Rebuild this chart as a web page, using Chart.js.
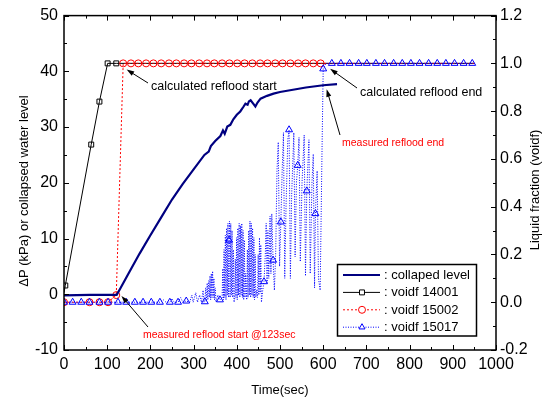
<!DOCTYPE html>
<html>
<head>
<meta charset="utf-8">
<script src="https://cdn.jsdelivr.net/npm/chart.js@4.4.1/dist/chart.umd.min.js"></script>
<style>
  html, body { margin: 0; padding: 0; background: #fff; }
  canvas { display: block; }
</style>
</head>
<body>
<canvas id="chart" width="549" height="401"></canvas>
<script>
// collapsed water level (kPa, left axis)
const tCollapsed = [0, 60, 122, 130, 150, 175, 200, 225, 250, 275, 300, 325, 335, 340, 350, 362, 368, 372, 378, 385, 392, 400, 408, 415, 420, 425, 428, 432, 438, 443, 448, 455, 470, 485, 500, 530, 560, 600, 632];
const vCollapsed = [-0.2, -0.1, -0.1, 1.0, 3.8, 7.3, 10.6, 13.8, 17.0, 19.8, 22.4, 25.0, 25.6, 26.6, 27.5, 28.4, 29.4, 28.8, 30.1, 30.4, 31.4, 32.2, 32.8, 33.6, 34.2, 34.0, 34.6, 34.8, 34.2, 33.7, 34.4, 35.1, 35.6, 36.0, 36.3, 36.7, 37.1, 37.5, 37.7];

// voidf 14001 (right axis)
const t14001 = [0, 3, 63, 82, 101, 121, 950];
const v14001 = [0.04, 0.07, 0.66, 0.84, 1.0, 1.0, 1.0];
const mk14001 = [3, 63, 82, 101, 121];

// voidf 15002
const t15002 = [0, 59, 82, 102, 121, 137, 155, 172, 190, 207, 225, 243, 260, 278, 295, 313, 331, 348, 366, 383, 401, 418, 436, 454, 471, 489, 506, 524, 542, 559, 577, 594, 950];
const v15002 = [0.0, 0.0, 0.0, 0.0, 0.03, 1.0, 1.0, 1.0, 1.0, 1.0, 1.0, 1.0, 1.0, 1.0, 1.0, 1.0, 1.0, 1.0, 1.0, 1.0, 1.0, 1.0, 1.0, 1.0, 1.0, 1.0, 1.0, 1.0, 1.0, 1.0, 1.0, 1.0, 1.0];
const mk15002 = [0, 59, 82, 102, 121, 137, 155, 172, 190, 207, 225, 243, 260, 278, 295, 313, 331, 348, 366, 383, 401, 418, 436, 454, 471, 489, 506, 524, 542, 559, 577, 594];

// voidf 15017
const t15017 = [0, 20, 40, 59, 82, 102, 125, 144, 164, 183, 202, 222, 230, 236, 245, 250, 255, 264, 270, 275, 283,
  291, 296, 299, 305, 309, 314, 318, 322, 324, 326, 328, 330, 331.5, 333, 335, 336.5, 338, 339.5, 341, 342.5, 344, 345.5, 347, 348.5, 350, 352, 356, 361,
  366, 367.5, 369, 370.5, 372, 373.5, 375, 376.5, 378, 379.5, 381, 382, 383, 384.5, 386, 387.5, 389, 390.5, 392, 393.5,
  395, 396.5, 398, 399.5, 401, 402.5, 404, 405.5, 407, 408.5, 410, 411.5, 413, 414.5, 416, 417.5, 419, 420.5,
  423, 424.5, 426, 427.5, 429, 430.5, 432, 433.5, 435, 436.5, 438, 439.5, 441, 442.5, 444, 445.5,
  448, 449.5, 451, 452.5, 454, 455.5, 457, 460, 463, 466, 468, 470, 472, 474, 477, 479, 481, 484, 487,
  490, 493, 496, 499, 502, 505, 508, 511, 514, 518, 521, 524, 527, 532, 535, 538, 541, 544, 547,
  551, 556, 559, 562, 567, 570, 574, 577, 580, 582, 586, 589, 593, 597, 600, 606,
  620, 641, 661, 682, 701, 722, 742, 763, 783, 803, 823, 844, 864, 884, 904, 925, 945, 950];
const v15017 = [0.0, 0.0, 0.0, 0.0, 0.0, 0.0, 0.0, 0.0, 0.0, 0.0, 0.0, 0.0, 0.01, 0.0, 0.0, 0.015, 0.0, 0.0, 0.02, 0.0, 0.005,
  0.0, 0.03, 0.0, 0.04, 0.0, 0.03, 0.0, 0.05, 0.0, 0.002, 0.06, 0.01, 0.08, 0.01, 0.09, 0.02, 0.11, 0.01, 0.12, 0.02, 0.13, 0.02, 0.10, 0.01, 0.06, 0.0, 0.03, 0.01,
  0.02, 0.14, 0.01, 0.22, 0.02, 0.28, 0.01, 0.31, 0.03, 0.33, 0.02, 0.26, 0.34, 0.02, 0.33, 0.03, 0.30, 0.02, 0.22, 0.0,
  0.01, 0.18, 0.02, 0.27, 0.01, 0.31, 0.03, 0.33, 0.02, 0.32, 0.03, 0.33, 0.02, 0.30, 0.01, 0.26, 0.02, 0.12,
  0.01, 0.22, 0.02, 0.30, 0.03, 0.34, 0.02, 0.33, 0.03, 0.31, 0.02, 0.27, 0.01, 0.20, 0.02, 0.05,
  0.02, 0.20, 0.03, 0.27, 0.04, 0.24, 0.0, 0.05, 0.086, 0.20, 0.33, 0.08, 0.30, 0.10, 0.36, 0.12, 0.37, 0.176, 0.05,
  0.20, 0.55, 0.67, 0.15, 0.336, 0.55, 0.71, 0.10, 0.40, 0.68, 0.722, 0.10, 0.45, 0.71, 0.19, 0.50, 0.573, 0.69, 0.17,
  0.50, 0.70, 0.11, 0.466, 0.68, 0.12, 0.50, 0.62, 0.06, 0.371, 0.55, 0.10, 0.05, 0.60, 0.977, 1.0,
  1.0, 1.0, 1.0, 1.0, 1.0, 1.0, 1.0, 1.0, 1.0, 1.0, 1.0, 1.0, 1.0, 1.0, 1.0, 1.0, 1.0, 1.0];
const mk15017 = [0, 20, 40, 59, 82, 102, 125, 144, 164, 183, 202, 222, 245, 264, 283, 326, 361, 382, 463, 484, 502, 521, 541, 562, 582, 600,
  620, 641, 661, 682, 701, 722, 742, 763, 783, 803, 823, 844, 864, 884, 904, 925, 945];

const xTicks = [0, 1000, 100];
const yLeftTicks = [-10, 50, 10];
const yRightTicks = [-0.2, 1.2, 0.2];

const legendLabels = [": collaped level", ": voidf 14001", ": voidf 15002", ": voidf 15017"];
const FONT = "'Liberation Sans', Arial, sans-serif";

function pts(t, v) {
  return t.map((x, i) => ({ x, y: v[i] }));
}

function markerRadius(list, r) {
  return (ctx) => (ctx.raw && list.includes(ctx.raw.x) ? r : 0);
}

function arrow(ctx, x1, y1, x2, y2) {
  const a = Math.atan2(y2 - y1, x2 - x1);
  ctx.beginPath();
  ctx.moveTo(x1, y1);
  ctx.lineTo(x2 - 5 * Math.cos(a), y2 - 5 * Math.sin(a));
  ctx.stroke();
  ctx.beginPath();
  ctx.moveTo(x2, y2);
  ctx.lineTo(x2 - 8 * Math.cos(a - 0.32), y2 - 8 * Math.sin(a - 0.32));
  ctx.lineTo(x2 - 8 * Math.cos(a + 0.32), y2 - 8 * Math.sin(a + 0.32));
  ctx.closePath();
  ctx.fill();
}

const frame = {
  id: "frame",
  afterDraw(chart) {
    const { ctx, chartArea: a, scales } = chart;
    const sx = scales.x, sy = scales.y, sr = scales.y2;
    ctx.save();
    ctx.strokeStyle = "#000";
    ctx.lineWidth = 1.5;
    ctx.strokeRect(a.left, a.top, a.right - a.left, a.bottom - a.top);

    // inward tick marks
    ctx.lineWidth = 1;
    ctx.beginPath();
    for (let t = 0; t <= 1000; t += 50) {
      const p = Math.round(sx.getPixelForValue(t)) + 0.5;
      const len = t % 100 === 0 ? 5 : 3;
      ctx.moveTo(p, a.bottom); ctx.lineTo(p, a.bottom - len);
      ctx.moveTo(p, a.top); ctx.lineTo(p, a.top + len);
    }
    for (let v = -10; v <= 50; v += 5) {
      const p = Math.round(sy.getPixelForValue(v)) + 0.5;
      const len = v % 10 === 0 ? 5 : 3;
      ctx.moveTo(a.left, p); ctx.lineTo(a.left + len, p);
    }
    for (let k = -2; k <= 12; k++) {
      const p = Math.round(sr.getPixelForValue(k / 10)) + 0.5;
      const len = k % 2 === 0 ? 5 : 3;
      ctx.moveTo(a.right, p); ctx.lineTo(a.right - len, p);
    }
    ctx.stroke();

    // axis titles
    ctx.fillStyle = "#000";
    ctx.font = "13px " + FONT;
    ctx.textAlign = "center";
    ctx.textBaseline = "middle";
    ctx.fillText("Time(sec)", (a.left + a.right) / 2, 390);
    ctx.save();
    ctx.translate(24, 191);
    ctx.rotate(-Math.PI / 2);
    ctx.fillText("\u0394P (kPa) or collapsed water level", 0, 0);
    ctx.restore();
    ctx.save();
    ctx.translate(535, 190);
    ctx.rotate(-Math.PI / 2);
    ctx.fillText("Liquid fraction (voidf)", 0, 0);
    ctx.restore();

    // annotations
    ctx.lineWidth = 1;
    ctx.strokeStyle = "#000";
    ctx.fillStyle = "#000";
    ctx.textAlign = "left";
    ctx.font = "12.5px " + FONT;
    ctx.fillText("calculated reflood start", 151, 87);
    arrow(ctx, 148, 83, sx.getPixelForValue(145), sr.getPixelForValue(0.974));
    ctx.fillText("calculated reflood end", 360, 93);
    arrow(ctx, 357, 88, sx.getPixelForValue(616), sr.getPixelForValue(0.977));
    arrow(ctx, 340, 135, sx.getPixelForValue(608), sy.getPixelForValue(36.8));
    arrow(ctx, 148, 327, sx.getPixelForValue(133), sy.getPixelForValue(-0.3));
    ctx.fillStyle = "#ff0000";
    ctx.font = "10.5px " + FONT;
    ctx.fillText("measured reflood end", 342, 143);
    ctx.fillText("measured reflood start @123sec", 143, 335);

    // legend
    const lx = 337.5, ly = 264.5, lw = 139, lh = 71.5;
    ctx.fillStyle = "#fff";
    ctx.fillRect(lx, ly, lw, lh);
    ctx.strokeStyle = "#000";
    ctx.lineWidth = 1.5;
    ctx.strokeRect(lx, ly, lw, lh);
    const rows = chart.data.datasets;
    rows.forEach((ds, i) => {
      const y = 275 + i * 17.4;
      ctx.save();
      ctx.strokeStyle = ds.borderColor;
      ctx.lineWidth = ds.borderWidth;
      ctx.setLineDash(ds.borderDash || []);
      ctx.beginPath();
      ctx.moveTo(343, y); ctx.lineTo(380, y);
      ctx.stroke();
      ctx.restore();
      if (ds.pointStyle && i > 0) {
        ctx.save();
        ctx.lineWidth = 1;
        ctx.strokeStyle = ds.borderColor;
        ctx.fillStyle = "#fff";
        Chart.helpers.drawPoint(ctx, { pointStyle: ds.pointStyle, radius: 3.5, borderWidth: 1 }, 362, y);
        ctx.restore();
      }
      ctx.fillStyle = "#000";
      ctx.font = "13px " + FONT;
      ctx.textAlign = "left";
      ctx.fillText(legendLabels[i], 384, y + 0.5);
    });
    ctx.restore();
  }
};

new Chart(document.getElementById("chart"), {
  type: "line",
  data: {
    datasets: [
      {
        data: pts(tCollapsed, vCollapsed), yAxisID: "y",
        borderColor: "#000080", borderWidth: 2.2, pointRadius: 0, order: 1
      },
      {
        data: pts(t14001, v14001), yAxisID: "y2",
        borderColor: "#000000", borderWidth: 1, pointStyle: "rect",
        pointRadius: markerRadius(mk14001, 3.5), pointBorderWidth: 1,
        pointBackgroundColor: "rgba(0,0,0,0)", pointBorderColor: "#000", order: 4
      },
      {
        data: pts(t15002, v15002), yAxisID: "y2",
        borderColor: "#ff0000", borderWidth: 1, borderDash: [2, 2], pointStyle: "circle",
        pointRadius: markerRadius(mk15002, 3.5), pointBorderWidth: 1,
        pointBackgroundColor: "rgba(0,0,0,0)", pointBorderColor: "#ff0000", order: 3
      },
      {
        data: pts(t15017, v15017), yAxisID: "y2",
        borderColor: "#0000ff", borderWidth: 1, borderDash: [1, 1.5], pointStyle: "triangle",
        pointRadius: markerRadius(mk15017, 4), pointBorderWidth: 1,
        pointBackgroundColor: "rgba(0,0,0,0)", pointBorderColor: "#0000ff", order: 2
      }
    ]
  },
  options: {
    responsive: false,
    animation: false,
    devicePixelRatio: 1,
    layout: { padding: { top: 15, left: 0, right: 0, bottom: 0 } },
    plugins: { legend: { display: false }, tooltip: { enabled: false } },
    elements: { line: { tension: 0 } },
    scales: {
      x: {
        type: "linear", min: xTicks[0], max: xTicks[1],
        ticks: { stepSize: xTicks[2], color: "#000", font: { size: 16, family: FONT }, padding: 5, maxRotation: 0,
          callback: (v) => String(v) },
        grid: { display: false, drawTicks: false },
        border: { display: false },
        afterFit: (s) => { s.height = 51; }
      },
      y: {
        position: "left", min: yLeftTicks[0], max: yLeftTicks[1],
        ticks: { stepSize: yLeftTicks[2], color: "#000", font: { size: 16, family: FONT }, padding: 6,
          callback: (v) => String(v) },
        grid: { display: false, drawTicks: false },
        border: { display: false },
        afterFit: (s) => { s.width = 64; }
      },
      y2: {
        position: "right", min: yRightTicks[0], max: yRightTicks[1],
        ticks: { stepSize: yRightTicks[2], color: "#000", font: { size: 16, family: FONT }, padding: 4,
          callback: (v) => (Math.abs(v) < 1e-9 ? 0 : v).toFixed(1) },
        grid: { display: false, drawTicks: false },
        border: { display: false },
        afterFit: (s) => { s.width = 53; }
      }
    }
  },
  plugins: [frame]
});
</script>
</body>
</html>
